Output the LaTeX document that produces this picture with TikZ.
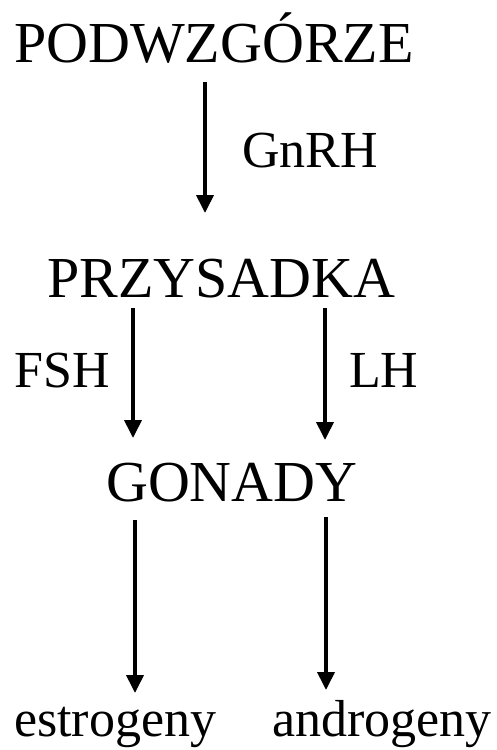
\documentclass[tikz,border=0pt]{standalone}
\usepackage{fontspec}
\setmainfont{Liberation Serif}
\usetikzlibrary{arrows.meta}
\begin{document}
\begin{tikzpicture}[
  big/.style={inner sep=0pt, anchor=base west, font=\fontsize{58}{60}\selectfont},
  mid/.style={inner sep=0pt, anchor=base west, font=\fontsize{52}{54}\selectfont},
  arr/.style={line width=3.8pt, -{Triangle[width=17pt,length=18pt]}}
]
\useasboundingbox (0,0) rectangle (497pt,-750pt);
\node[big] (pod) at (14pt,-62pt) {PODWZGÓRZE};
\node[mid] (gnrh) at (242pt,-167pt) {GnRH};
\node[big] (prz) at (47pt,-297pt) {PRZYSADKA};
\node[mid] (fsh) at (14pt,-387pt) {FSH};
\node[mid] (lh) at (349pt,-387pt) {LH};
\node[big] (gon) at (106pt,-501pt) {GONADY};
\node[mid] (est) at (14pt,-736pt) {estrogeny};
\node[mid] (andr) at (272pt,-736pt) {androgeny};
\coordinate (a1s) at (205pt,-82pt);
\coordinate (a1e) at (205pt,-213pt);
\coordinate (a2s) at (133pt,-308pt);
\coordinate (a2e) at (133pt,-438pt);
\coordinate (a3s) at (325pt,-308pt);
\coordinate (a3e) at (325pt,-440pt);
\coordinate (a4s) at (135pt,-520pt);
\coordinate (a4e) at (135pt,-693pt);
\coordinate (a5s) at (326pt,-517pt);
\coordinate (a5e) at (326pt,-690pt);
\draw[arr] (a1s) -- (a1e);
\draw[arr] (a2s) -- (a2e);
\draw[arr] (a3s) -- (a3e);
\draw[arr] (a4s) -- (a4e);
\draw[arr] (a5s) -- (a5e);
\end{tikzpicture}
\end{document}
